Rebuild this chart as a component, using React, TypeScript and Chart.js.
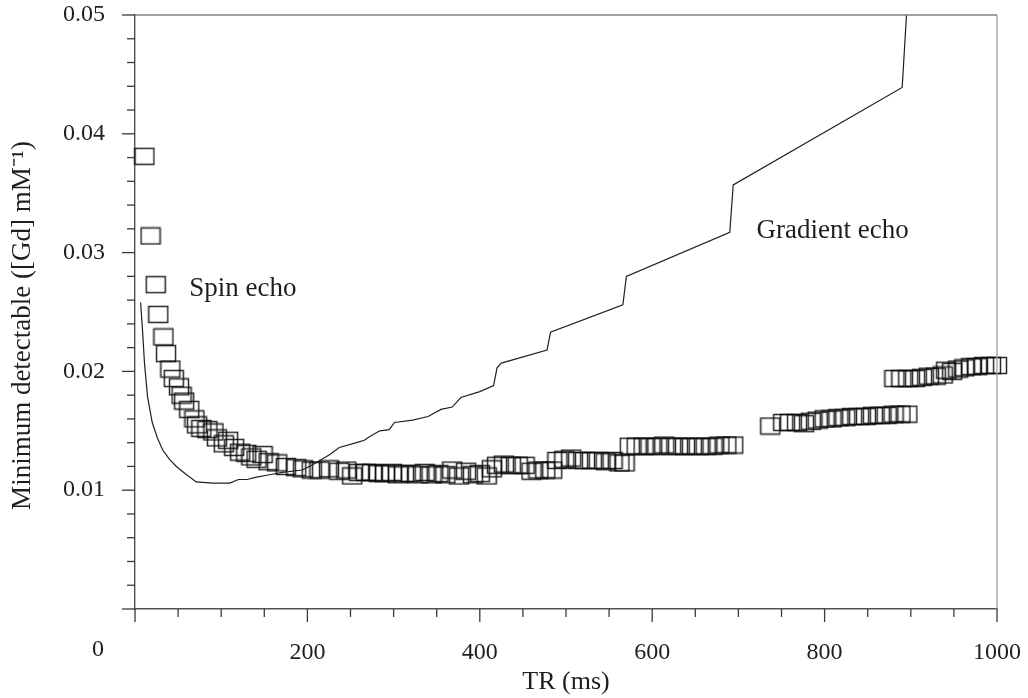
import { useEffect, useRef } from 'react';
import { Chart, registerables } from 'chart.js';

Chart.register(...registerables);

// Spin echo (squares): TR in ms and minimum detectable value
const spinTR = [
  11, 18, 24, 27, 33, 36, 41, 45, 51, 54, 57, 63, 69, 72, 77, 84, 91, 95, 103, 108,
  115, 122, 129, 135, 141, 148, 155, 165, 175, 187, 195, 205, 214, 225, 237, 245, 252, 260, 268, 275,
  283, 290, 298, 305, 312, 320, 328, 336, 344, 352, 360, 368, 376, 384, 392, 400, 408, 414, 420, 428,
  436, 444, 452, 460, 468, 476, 484, 490, 498, 506, 514, 522, 530, 538, 546, 554, 562, 568, 574, 582,
  590, 598, 606, 614, 622, 630, 638, 646, 654, 662, 670, 678, 686, 694,
  737, 752, 760, 768, 776, 784, 792, 800, 808, 816, 824, 832, 840, 848, 856, 864, 872, 880, 888, 896,
  881, 889, 897, 905, 913, 921, 929, 937, 941, 948, 955, 962, 970, 977, 985, 993, 1000,
];
const spinValue = [
  0.0381, 0.0314, 0.0273, 0.0248, 0.0229, 0.0215, 0.0202, 0.0194, 0.0187, 0.0180, 0.0175, 0.0168, 0.0160, 0.0155, 0.0152, 0.0151, 0.0149, 0.0144, 0.0139, 0.0142,
  0.0136, 0.0132, 0.0131, 0.0128, 0.0126, 0.0130, 0.0124, 0.0123, 0.0120, 0.0119, 0.0118, 0.0117, 0.0117, 0.0118, 0.0116, 0.0117, 0.0112, 0.0115, 0.0115, 0.0115,
  0.0114, 0.0114, 0.0115, 0.0113, 0.0114, 0.0114, 0.0113, 0.0115, 0.0113, 0.0114, 0.0113, 0.0117, 0.0112, 0.0116, 0.0113, 0.0114, 0.0112, 0.0118, 0.0121, 0.0122,
  0.0121, 0.0121, 0.0121, 0.0116, 0.0117, 0.0117, 0.0117, 0.0125, 0.0126, 0.0127, 0.0125, 0.0125, 0.0125, 0.0125, 0.0124, 0.0125, 0.0123, 0.0123, 0.0137, 0.0137,
  0.0137, 0.0137, 0.0137, 0.0138, 0.0137, 0.0137, 0.0137, 0.0137, 0.0137, 0.0137, 0.0137, 0.0138, 0.0138, 0.0138,
  0.0154, 0.0157, 0.0157, 0.0157, 0.0156, 0.0158, 0.0159, 0.0160, 0.0160, 0.0161, 0.0161, 0.0162, 0.0162, 0.0162, 0.0163, 0.0163, 0.0163, 0.0164, 0.0164, 0.0164,
  0.0194, 0.0194, 0.0194, 0.0194, 0.0195, 0.0196, 0.0196, 0.0197, 0.0201, 0.0200, 0.0202, 0.0203, 0.0204, 0.0204, 0.0205, 0.0205, 0.0205,
];

// Gradient echo (line)
const gradTR = [
  6.5, 8.7, 11, 14.5, 20, 26, 32, 40, 48, 58, 71, 90, 110, 120, 130, 141, 156, 171, 194, 205,
  212, 226, 237, 257, 266, 272, 284, 295, 301, 322, 340, 355, 368, 378, 400, 416, 420, 425, 478, 482,
  566, 570, 690, 694, 890, 895,
];
const gradValue = [
  0.0258, 0.0235, 0.0207, 0.0179, 0.0157, 0.0144, 0.0134, 0.0126, 0.0120, 0.0114, 0.0107, 0.0106, 0.0106, 0.0109, 0.0109, 0.0111, 0.0113, 0.0115, 0.0117, 0.0121,
  0.0124, 0.0130, 0.0136, 0.0140, 0.0142, 0.0145, 0.0150, 0.0151, 0.0157, 0.0159, 0.0162, 0.0168, 0.0170, 0.0178, 0.0183, 0.0188, 0.0203, 0.0207, 0.0218, 0.0233,
  0.0256, 0.0280, 0.0317, 0.0357, 0.0439, 0.0500,
];

const xLabelValues = [200, 400, 600, 800, 1000];
const yLabelValues = [0.01, 0.02, 0.03, 0.04, 0.05];
const yTickLabels = ['0.01', '0.02', '0.03', '0.04', '0.05'];

const FONT = '"Liberation Serif", "Times New Roman", serif';
const TEXT = '#1e1e1e';

const isXMajor = (v: number) => Math.abs(v % 200) < 1e-9;
const isYMajor = (v: number) => Math.abs(v * 100 - Math.round(v * 100)) < 1e-6;

const zeroPad = (s: any) => {
  s.paddingTop = 0;
  s.paddingBottom = 0;
  s.paddingLeft = 0;
  s.paddingRight = 0;
};

export default function App() {
  const ref = useRef<HTMLCanvasElement | null>(null);

  useEffect(() => {
    document.body.style.margin = '0';
    const canvas = ref.current;
    if (!canvas) return;

    const marker = document.createElement('canvas');
    marker.width = 22;
    marker.height = 19;
    const mctx = marker.getContext('2d')!;
    mctx.strokeStyle = 'rgba(10,10,10,0.88)';
    mctx.lineWidth = 1.5;
    mctx.strokeRect(1.5, 1.5, 19, 16);

    const framePlugin = {
      id: 'frameTicks',
      afterDraw(chart: any) {
        const { ctx, chartArea: a, scales } = chart;
        const xs = scales.x;
        const ys = scales.y;
        ctx.save();
        ctx.lineWidth = 1.3;
        ctx.strokeStyle = '#808080';
        ctx.beginPath();
        ctx.moveTo(a.left, a.top);
        ctx.lineTo(a.right, a.top);
        ctx.stroke();
        ctx.strokeStyle = '#a0a0a0';
        ctx.beginPath();
        ctx.moveTo(a.right, a.top);
        ctx.lineTo(a.right, a.bottom);
        ctx.stroke();

        ctx.strokeStyle = '#3a3a3a';
        xs.ticks.forEach((t: any) => {
          const px = xs.getPixelForValue(t.value);
          const len = isXMajor(t.value) ? 13 : 8;
          ctx.beginPath();
          ctx.moveTo(px, a.bottom);
          ctx.lineTo(px, a.bottom + len);
          ctx.stroke();
        });
        ys.ticks.forEach((t: any) => {
          const py = ys.getPixelForValue(t.value);
          const len = isYMajor(t.value) ? 13 : 8;
          ctx.beginPath();
          ctx.moveTo(a.left - len, py);
          ctx.lineTo(a.left, py);
          ctx.stroke();
        });

        // shared origin label
        ctx.fillStyle = TEXT;
        ctx.font = `24px ${FONT}`;
        ctx.textAlign = 'center';
        ctx.textBaseline = 'top';
        ctx.fillText('0', a.left - 37, a.bottom + 29);

        // curve labels
        ctx.font = `27px ${FONT}`;
        ctx.textAlign = 'left';
        ctx.textBaseline = 'alphabetic';
        ctx.fillText('Spin echo', xs.getPixelForValue(63), ys.getPixelForValue(0.02635));
        ctx.fillText('Gradient echo', xs.getPixelForValue(721), ys.getPixelForValue(0.03123));
        ctx.restore();
      },
    };

    const chart = new Chart(canvas, {
      type: 'scatter',
      data: {
        datasets: [
          {
            type: 'line',
            label: 'Gradient echo',
            data: gradTR.map((x, i) => ({ x, y: gradValue[i] })),
            borderColor: '#202020',
            borderWidth: 1.2,
            pointRadius: 0,
            tension: 0,
            fill: false,
          },
          {
            type: 'scatter',
            label: 'Spin echo',
            data: spinTR.map((x, i) => ({ x, y: spinValue[i] })),
            pointStyle: marker as any,
            pointRadius: 10,
            clip: false as any,
          },
        ],
      },
      options: {
        animation: false,
        responsive: false,
        devicePixelRatio: 1,
        layout: { padding: { top: 15, right: 31, left: 0, bottom: 0 } },
        plugins: { legend: { display: false }, tooltip: { enabled: false } },
        scales: {
          x: {
            type: 'linear',
            min: 0,
            max: 1000,
            grid: { display: false, drawTicks: false },
            border: { display: true, color: '#505050', width: 1.4 },
            ticks: {
              stepSize: 50,
              autoSkip: false,
              maxRotation: 0,
              padding: 29,
              color: TEXT,
              font: { family: FONT, size: 24 },
              callback: (v: any) => (xLabelValues.includes(Number(v)) ? String(v) : ''),
            },
            title: {
              display: true,
              text: 'TR (ms)',
              color: TEXT,
              font: { family: FONT, size: 26 },
              padding: { top: 0, bottom: 0 },
            },
            afterFit: (s: any) => {
              s.height = 89;
              zeroPad(s);
            },
          },
          y: {
            type: 'linear',
            min: 0,
            max: 0.05,
            grid: { display: false, drawTicks: false },
            border: { display: true, color: '#505050', width: 1.4 },
            ticks: {
              stepSize: 0.002,
              autoSkip: false,
              padding: 30,
              color: TEXT,
              font: { family: FONT, size: 24 },
              callback: (v: any) => {
                const i = yLabelValues.findIndex((y) => Math.abs(y - Number(v)) < 1e-7);
                return i >= 0 ? yTickLabels[i] : '';
              },
            },
            title: {
              display: true,
              text: 'Minimum detectable ([Gd] mM\u207B\u00B9)\u2003',
              color: TEXT,
              font: { family: FONT, size: 27 },
              padding: { top: 7, bottom: 0 },
            },
            afterFit: (s: any) => {
              s.width = 135;
              zeroPad(s);
            },
          },
        },
      },
      plugins: [framePlugin],
    });

    return () => chart.destroy();
  }, []);

  return (
    <div style={{ width: 1028, height: 698 }}>
      <canvas ref={ref} width={1028} height={698} style={{ display: 'block' }} />
    </div>
  );
}
